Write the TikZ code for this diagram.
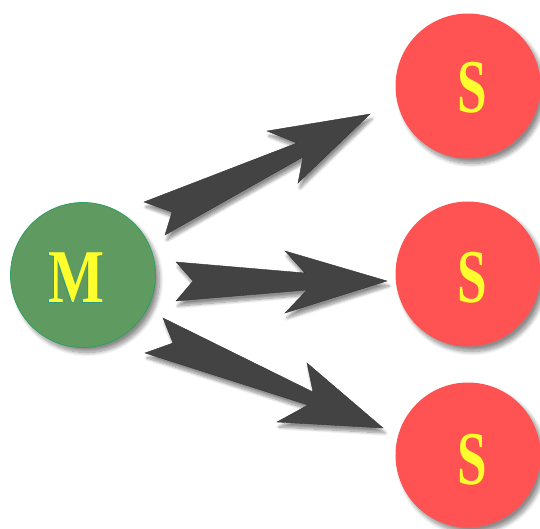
\documentclass[tikz,border=0pt]{standalone}
\usepackage{fontspec}
\setmainfont{Liberation Serif}
\usetikzlibrary{shadows.blur}
\definecolor{mastergreen}{HTML}{5F9A60}
\definecolor{masteredge}{HTML}{2FA060}
\definecolor{slavered}{HTML}{FF5252}
\definecolor{lettery}{HTML}{FFFF2E}
\definecolor{letteredge}{HTML}{2E9A80}
\definecolor{arrowgray}{HTML}{434343}
\tikzset{
  unit/.style={circle, minimum size=145pt, inner sep=0pt,
    blur shadow={shadow xshift=4pt, shadow yshift=-5pt, shadow blur steps=10, shadow blur radius=4pt, shadow opacity=45}},
  master/.style={unit, fill=mastergreen, draw=masteredge, line width=0.8pt},
  slave/.style={unit, fill=slavered},
  letter/.style={text=lettery, font=\bfseries\fontsize{76}{76}\selectfont, inner sep=0pt},
  letterback/.style={letter, text=letteredge},
  blockarrow/.style={fill=arrowgray, draw=arrowgray!80!black, line width=0.4pt, line join=miter,
    blur shadow={shadow xshift=2pt, shadow yshift=-5pt, shadow blur steps=10, shadow blur radius=3pt, shadow opacity=45}},
}
\begin{document}
\begin{tikzpicture}[x=1pt,y=-1pt]
  \useasboundingbox (0,0) rectangle (540,529);
  % master and slaves
  \node[master] (m) at (83,275) {};
  \node[letterback, xscale=0.78] at (75,279) {M};
  \node[letter, xscale=0.78] (mt) at (76,278) {M};
  \node[slave] (s1) at (468,86) {};
  \node[letter, xscale=0.7] (s1t) at (472,88) {S};
  \node[slave] (s2) at (468,274) {};
  \node[letter, xscale=0.7] (s2t) at (472,278) {S};
  \node[slave] (s3) at (468,455) {};
  \node[letter, xscale=0.7] (s3t) at (472,460) {S};
  % upper arrow
  \draw[blockarrow] (144,202) -- (297,143) -- (267,131) -- (370,114) -- (298,183)
    -- (303,157) -- (165,235) -- (172,212) -- cycle;
  % middle arrow
  \draw[blockarrow] (176,262) -- (305,273) -- (285,251) -- (387,281) -- (285,313)
    -- (307,290) -- (176,301) -- (193,281) -- cycle;
  % lower arrow
  \draw[blockarrow] (163,318) -- (313,392) -- (307,363) -- (383,428) -- (277,422)
    -- (308,405) -- (145,353) -- (173,343) -- cycle;
\end{tikzpicture}
\end{document}
